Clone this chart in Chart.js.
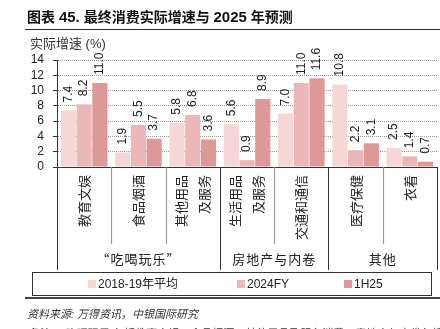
<!DOCTYPE html>
<html>
<head>
<meta charset="utf-8">
<script src="https://cdn.jsdelivr.net/npm/chart.js@4"></script>
<style>
  html, body { margin: 0; padding: 0; background: #fff; }
  body { width: 440px; height: 329px; position: relative; overflow: hidden;
         font-family: 'Liberation Sans', 'Noto Sans CJK SC', sans-serif; color: #222; }
  #chart { position: absolute; left: 0; top: 0; }
  .abs { position: absolute; white-space: nowrap; }
  #title { left: 27px; top: 6px; font-size: 14px; font-weight: bold; color: #111; }
  #title .num { font-size: 15px; }
  #rule1 { left: 25px; top: 29px; width: 415px; border-top: 1.5px solid #333; }
  #unit { left: 30px; top: 33px; font-size: 13px; color: #333; }
  #legendBox { left: 32px; top: 272px; width: 400px; height: 24px; border: 1px solid #333; box-sizing: border-box; }
  #rule2 { left: 25px; top: 297px; width: 415px; border-top: 2px solid #444; }
  #source { left: 27px; top: 305px; font-size: 11px; font-style: italic; color: #333; }
  #note { left: 27px; top: 324px; font-size: 11px; font-style: italic; color: #333; }
</style>
</head>
<body>
<canvas id="chart" width="440" height="329"></canvas>
<div id="title" class="abs">图表 <span class="num">45.</span> 最终消费实际增速与 <span class="num">2025</span> 年预测</div>
<div id="rule1" class="abs"></div>
<div id="unit" class="abs">实际增速 (%)</div>
<div id="legendBox" class="abs"></div>
<div id="rule2" class="abs"></div>
<div id="source" class="abs">资料来源: 万得资讯，中银国际研究</div>
<div id="note" class="abs">备注：“吃喝玩乐”包括教育文娱、食品烟酒、其他用品及服务消费，房地产与内卷包括生活用品及服务</div>
<script>
// categories (multi-line labels) and groups
const categories = [['教育文娱'], ['食品烟酒'], ['其他用品', '及服务'], ['生活用品', '及服务'], ['交通和通信'], ['医疗保健'], ['衣着']];
const groupLabels = ['“吃喝玩乐”', '房地产与内卷', '其他'];
const groupStart = [0, 3, 5];
const groupEnd = [2, 4, 6];

// series values, %
const seriesNames = ['2018-19年平均', '2024FY', '1H25'];
const avg1819 = [7.4, 1.9, 5.8, 5.6, 7.0, 10.8, 2.5];
const fy2024 = [8.2, 5.5, 6.8, 0.9, 11.0, 2.2, 1.4];
const h125 = [11.0, 3.7, 3.6, 8.9, 11.6, 3.1, 0.7];

// y axis ticks
const yMin = 0;
const yMax = 14;
const yStep = 2;

const colors = ['#f6d6d6', '#ecb7b7', '#df9898'];
const legendX = [88, 237, 344];   // left edge of each legend square

const catFont = '13px "Noto Sans CJK SC", sans-serif';
const numFont = '12px "Liberation Sans", Arial, sans-serif';

// value labels above bars, rotated
const valueLabels = {
    id: 'valueLabels',
    afterDatasetsDraw: function(chart) {
        const ctx = chart.ctx;
        ctx.save();
        ctx.font = numFont;
        ctx.fillStyle = '#222';
        ctx.textAlign = 'left';
        ctx.textBaseline = 'middle';
        chart.data.datasets.forEach(function(ds, di) {
            chart.getDatasetMeta(di).data.forEach(function(bar, i) {
                ctx.save();
                ctx.translate(bar.x, bar.y - 8);
                ctx.rotate(-Math.PI / 2);
                ctx.fillText(ds.data[i].toFixed(1), 0, 0);
                ctx.restore();
            });
        });
        ctx.restore();
    }
};

// category labels, separators, group labels and legend under the x axis
const categoryAxis = {
    id: 'categoryAxis',
    afterDraw: function(chart) {
        const ctx = chart.ctx;
        const x = chart.scales.x;
        const top = chart.chartArea.bottom;
        const half = (x.getPixelForValue(1) - x.getPixelForValue(0)) / 2;
        ctx.save();

        // separators
        for (let i = 0; i <= categories.length; i++) {
            const px = Math.round(x.getPixelForValue(i) - half) + 0.5;
            const isGroupEdge = i === 0 || i === categories.length || groupStart.indexOf(i) >= 0;
            ctx.strokeStyle = isGroupEdge ? '#333' : '#999';
            ctx.lineWidth = isGroupEdge ? 1 : 1.2;
            ctx.beginPath();
            ctx.moveTo(px, top);
            ctx.lineTo(px, top + (isGroupEdge ? 103 : 77));
            ctx.stroke();
        }

        // category labels
        ctx.font = catFont;
        ctx.fillStyle = '#222';
        ctx.textAlign = 'right';
        ctx.textBaseline = 'middle';
        categories.forEach(function(lines, i) {
            const cx = x.getPixelForValue(i);
            lines.forEach(function(line, li) {
                ctx.save();
                ctx.translate(cx + (li - (lines.length - 1) / 2) * 23, top + 8);
                ctx.rotate(-Math.PI / 2);
                ctx.fillText(line, 0, 0);
                ctx.restore();
            });
        });

        // group labels
        ctx.save();
        ctx.textAlign = 'center';
        ctx.letterSpacing = '1px';
        groupLabels.forEach(function(label, g) {
            const left = x.getPixelForValue(groupStart[g]) - half;
            const right = x.getPixelForValue(groupEnd[g]) + half;
            ctx.fillText(label, (left + right) / 2, top + 92);
        });
        ctx.restore();

        // legend
        ctx.font = numFont.replace('sans-serif', '"Noto Sans CJK SC", sans-serif');
        ctx.textAlign = 'left';
        ctx.textBaseline = 'middle';
        chart.data.datasets.forEach(function(ds, k) {
            ctx.fillStyle = ds.backgroundColor;
            ctx.fillRect(legendX[k], 280, 8, 8);
            ctx.fillStyle = '#222';
            ctx.fillText(ds.label, legendX[k] + 10, 284.5);
        });
        ctx.restore();
    }
};

const datasets = [avg1819, fy2024, h125].map(function(values, k) {
    return {
        label: seriesNames[k],
        data: values,
        backgroundColor: colors[k],
        borderWidth: 0,
        categoryPercentage: 0.87,
        barPercentage: 0.96
    };
});

new Chart(document.getElementById('chart'), {
    type: 'bar',
    data: {
        labels: categories,
        datasets: datasets
    },
    options: {
        responsive: false,
        animation: false,
        layout: {
            padding: { left: 27, right: 3, top: 60, bottom: 59 }
        },
        plugins: {
            tooltip: { enabled: false },
            legend: { display: false }
        },
        scales: {
            x: {
                ticks: { display: false },
                grid: { display: false },
                border: { display: true, color: '#333', width: 1 },
                afterFit: function(scale) { scale.height = 103; }
            },
            y: {
                min: yMin,
                max: yMax,
                ticks: {
                    stepSize: yStep,
                    autoSkip: false,
                    padding: 9,
                    color: '#222',
                    font: { size: 12, family: '"Liberation Sans", Arial, sans-serif' }
                },
                grid: {
                    color: function(c) { return c.tick && c.tick.value === 0 ? 'rgba(0,0,0,0)' : '#9a9a9a'; },
                    tickColor: '#333',
                    tickLength: 4,
                    tickBorderDash: []
                },
                border: { display: true, color: '#333', width: 1, dash: [1, 1] },
                afterFit: function(scale) { scale.width = 30; }
            }
        }
    },
    plugins: [valueLabels, categoryAxis]
});
</script>
</body>
</html>
